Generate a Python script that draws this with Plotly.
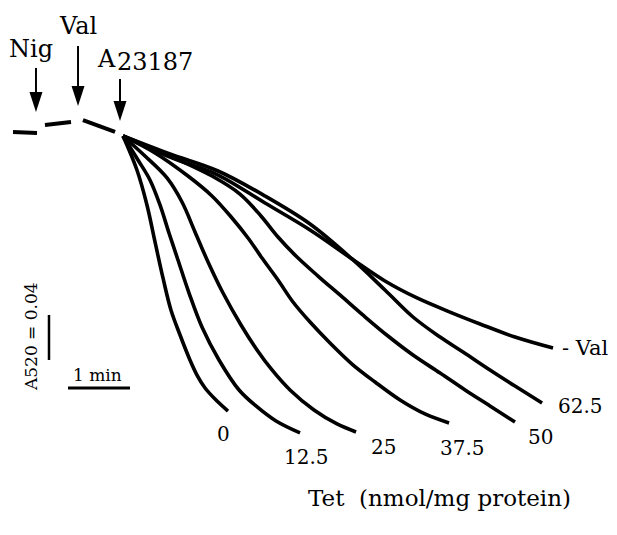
import plotly.graph_objects as go

# ---- data: time after A23187 addition (s) and change in A520 ----
t_0 = [0, 13.5, 23.2, 31.0, 38.7, 46.4, 55.2, 64.8, 71.6, 79.4, 90.0, 101.6]
a_0 = [0, -0.0302, -0.0613, -0.0942, -0.1262, -0.1547, -0.1769, -0.1991, -0.2125, -0.2240, -0.2347, -0.2445]

t_12 = [0, 14.5, 26.1, 35.8, 44.5, 53.2, 63.9, 76.4, 92.9, 112.3, 128.7, 148.1, 171.3]
a_12 = [0, -0.0213, -0.0391, -0.0613, -0.0862, -0.1102, -0.1396, -0.1698, -0.1991, -0.2258, -0.2400, -0.2534, -0.2640]

t_25 = [0, 21.3, 42.6, 57.1, 69.7, 82.3, 96.8, 114.2, 129.7, 144.2, 161.6, 184.8, 207.1, 225.5]
a_25 = [0, -0.0178, -0.0373, -0.0587, -0.0853, -0.1120, -0.1396, -0.1680, -0.1902, -0.2080, -0.2258, -0.2436, -0.2560, -0.2631]

t_37 = [0, 31.0, 62.9, 86.1, 105.5, 121.0, 134.5, 150.0, 164.5, 181.0, 200.3, 221.6, 243.9, 268.1, 292.2, 315.5]
a_37 = [0, -0.0151, -0.0356, -0.0533, -0.0729, -0.0907, -0.1085, -0.1280, -0.1476, -0.1654, -0.1840, -0.2027, -0.2187, -0.2347, -0.2471, -0.2551]

t_50 = [0, 45.5, 86.1, 113.2, 133.5, 150.0, 167.4, 188.7, 211.0, 233.2, 256.4, 280.6, 306.8, 331.0, 355.1, 379.3]
a_50 = [0, -0.0178, -0.0356, -0.0516, -0.0711, -0.0898, -0.1067, -0.1245, -0.1422, -0.1600, -0.1778, -0.1947, -0.2107, -0.2258, -0.2400, -0.2543]

t_62 = [0, 45.5, 91.9, 137.4, 181.0, 221.6, 253.5, 280.6, 306.8, 329.0, 355.1, 379.3, 405.5]
a_62 = [0, -0.0160, -0.0311, -0.0533, -0.0782, -0.1093, -0.1369, -0.1609, -0.1787, -0.1920, -0.2080, -0.2223, -0.2374]

t_noval = [0, 45.5, 91.9, 137.4, 181.0, 221.6, 253.5, 284.5, 316.4, 345.5, 379.3, 416.1]
a_noval = [0, -0.0187, -0.0347, -0.0596, -0.0836, -0.1093, -0.1289, -0.1440, -0.1565, -0.1671, -0.1787, -0.1885]

curve_labels = ["0", "12.5", "25", "37.5", "50", "62.5", "- Val"]

# baseline segments before A23187 (t, A pairs)
pre_t = [[-106.4, -83.2], [-75.5, -50.3], [-38.7, -7.7]]
pre_a = [[0.0036, 0.0027], [0.0098, 0.0124], [0.0142, 0.0036]]

# additions (time of addition)
add_names = ["Nig", "Val", "A23187"]
add_t = [-84.2, -43.5, -2.9]

scale_time = 60      # s  (1 min)
scale_abs = 0.04     # A520

BLACK = "#000000"
FONT = "DejaVu Serif"

fig = go.Figure()

curves = [(t_0, a_0), (t_12, a_12), (t_25, a_25), (t_37, a_37),
          (t_50, a_50), (t_62, a_62), (t_noval, a_noval)]
for (tt, aa), name in zip(curves, curve_labels):
    fig.add_trace(go.Scatter(x=tt, y=aa, mode="lines", name=name,
                             line=dict(color=BLACK, width=3.6, shape="spline", smoothing=1.0),
                             hoverinfo="skip", showlegend=False))

for tt, aa in zip(pre_t, pre_a):
    fig.add_trace(go.Scatter(x=tt, y=aa, mode="lines",
                             line=dict(color=BLACK, width=4), hoverinfo="skip", showlegend=False))

# scale bars
bar_t0 = -53.2
bar_y = -0.2240
fig.add_trace(go.Scatter(x=[bar_t0, bar_t0 + scale_time], y=[bar_y, bar_y], mode="lines",
                         line=dict(color=BLACK, width=3), hoverinfo="skip", showlegend=False))
vbar_t = -71.6
vbar_top = -0.1591
fig.add_trace(go.Scatter(x=[vbar_t, vbar_t], y=[vbar_top, vbar_top - scale_abs], mode="lines",
                         line=dict(color=BLACK, width=2.5), hoverinfo="skip", showlegend=False))

# arrows for additions: shaft + arrowhead marker
arrow_tip = [0.0213, 0.0267, 0.0133]
arrow_tail = [0.0605, 0.0800, 0.0507]
for t, tip, tail in zip(add_t, arrow_tip, arrow_tail):
    fig.add_trace(go.Scatter(x=[t, t], y=[tail, tip + 0.008], mode="lines",
                             line=dict(color=BLACK, width=2), hoverinfo="skip", showlegend=False))
    fig.add_trace(go.Scatter(x=[t], y=[tip], mode="markers",
                             marker=dict(symbol="arrow", angle=180, size=21, color=BLACK,
                                         line=dict(width=0)),
                             hoverinfo="skip", showlegend=False))

def label(txt, x, y, size, xanchor="center", angle=0):
    fig.add_annotation(x=x, y=y, xref="x", yref="y", text=txt, showarrow=False,
                       xanchor=xanchor, yanchor="middle", textangle=angle,
                       font=dict(family=FONT, size=size, color=BLACK))

label("Nig", -89.0, 0.0770, 24)
label("Val", -43.5, 0.0975, 24)
label("A", -15.5, 0.0685, 24)
label("23187", 31.0, 0.0655, 24)

label_pos = [(96.8, -0.2649), (177.1, -0.2854), (251.6, -0.2765), (328.1, -0.2774),
             (403.5, -0.2676), (442.2, -0.2400)]
for txt, (x, y) in zip(curve_labels[:6], label_pos):
    label(txt, x, y, 20)
label("- Val", 422.9, -0.1885, 21, xanchor="left")

label("1 min", -24.2, -0.2125, 17)
label("A520 = 0.04", -89.0, -0.1787, 17, angle=-90)
label("Tet  (nmol/mg protein)", 305.8, -0.3215, 23)

fig.update_layout(
    width=617, height=535,
    margin=dict(l=0, r=0, t=0, b=0),
    paper_bgcolor="white", plot_bgcolor="white",
    xaxis=dict(range=[-119.0, 478.0], visible=False, fixedrange=True),
    yaxis=dict(range=[-0.3547, 0.1209], visible=False, fixedrange=True),
    showlegend=False,
)

fig.write_html("out.html")
